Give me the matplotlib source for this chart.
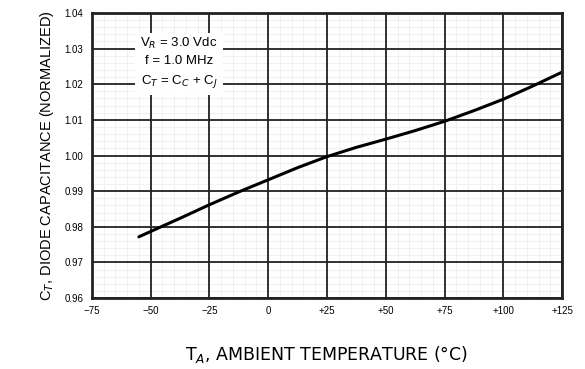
import matplotlib
matplotlib.use("Agg")
import matplotlib.pyplot as plt
import numpy as np

plt.rcParams['font.family'] = ['Liberation Sans', 'DejaVu Sans']

temp = [-55, -50, -37.5, -25, -12.5, 0, 12.5, 25, 37.5, 50, 62.5, 75, 87.5, 100, 112.5, 125]
cap = [0.9772, 0.9787, 0.9824, 0.9862, 0.9898, 0.9932, 0.9966, 0.9997, 1.0023,
       1.0046, 1.0070, 1.0096, 1.0126, 1.0158, 1.0195, 1.0234]

xticks = [-75, -50, -25, 0, 25, 50, 75, 100, 125]
xticklabels = ["\u221275", "\u221250", "\u221225", "0", "+25", "+50", "+75", "+100", "+125"]
yticks = [0.96, 0.97, 0.98, 0.99, 1.00, 1.01, 1.02, 1.03, 1.04]
yticklabels = ["0.96", "0.97", "0.98", "0.99", "1.00", "1.01", "1.02", "1.03", "1.04"]

fig = plt.figure(figsize=(5.85, 3.69), dpi=100)
ax = fig.add_axes([0.157, 0.192, 0.804, 0.773])

ax.set_xlim(-75, 125)
ax.set_ylim(0.96, 1.04)
ax.set_xticks(xticks)
ax.set_xticklabels(xticklabels, fontsize=7)
ax.set_yticks(yticks)
ax.set_yticklabels(yticklabels, fontsize=7)
ax.tick_params(which='both', length=0, pad=6)

# faint minor grid
for xv in np.arange(-75, 126, 5):
    ax.axvline(xv, color='#ececec', linewidth=0.5, zorder=0.5)
for yv in np.arange(0.96, 1.0401, 0.002):
    ax.axhline(yv, color='#ececec', linewidth=0.5, zorder=0.5)
# major grid
for xv in xticks:
    ax.axvline(xv, color='#222222', linewidth=1.3, zorder=1)
for yv in yticks:
    ax.axhline(yv, color='#222222', linewidth=1.3, zorder=1)

for s in ax.spines.values():
    s.set_linewidth(2)
    s.set_color('#222222')
    s.set_zorder(7)

ax.plot(temp, cap, color='black', linewidth=2.2, zorder=5,
        solid_joinstyle='round', solid_capstyle='round')

ax.text(-38, 1.0260, "V$_R$ = 3.0 Vdc\nf = 1.0 MHz\nC$_T$ = C$_C$ + C$_J$",
        ha='center', va='center', fontsize=9.5, linespacing=1.5, zorder=6,
        bbox=dict(boxstyle='square,pad=0.4', facecolor='white', edgecolor='none'))

ax.set_xlabel("T$_A$, AMBIENT TEMPERATURE (\u00b0C)", fontsize=12.5, labelpad=20,
              family=['DejaVu Sans'])
ax.set_ylabel("C$_T$, DIODE CAPACITANCE (NORMALIZED)", fontsize=10.5, labelpad=6)

fig.savefig("out.png", dpi=100)
